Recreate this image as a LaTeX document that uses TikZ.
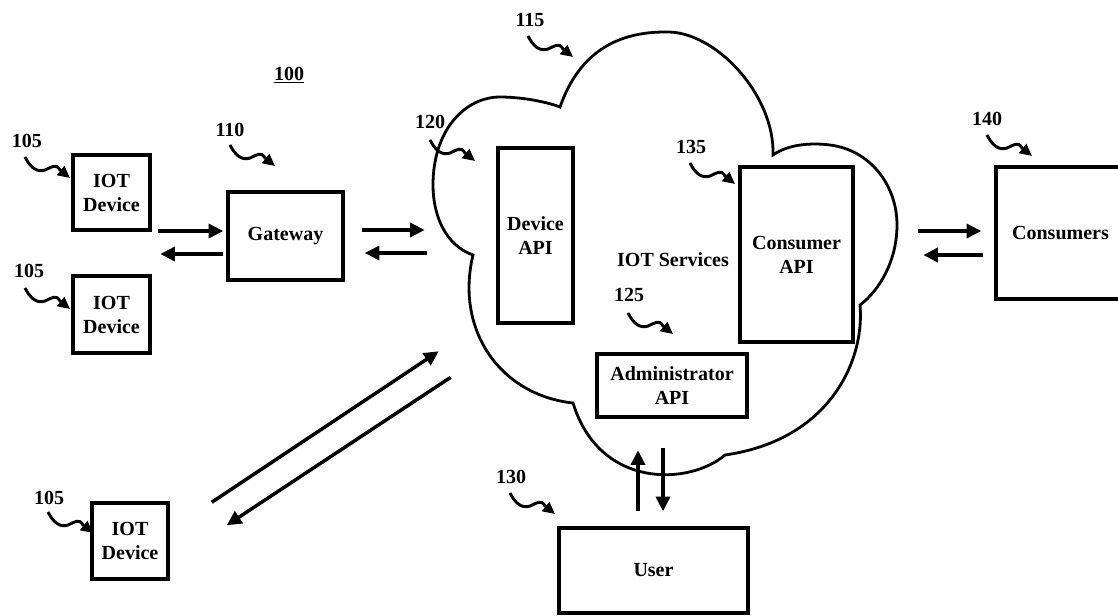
\documentclass[tikz,border=0pt]{standalone}
\usepackage{fontspec}
\setmainfont{Liberation Serif}
\usetikzlibrary{arrows.meta,calc}
\tikzset{
  box/.style={draw,line width=2.6pt,align=center,inner sep=0pt,font=\bfseries\fontsize{15}{18}\selectfont},
  lbl/.style={font=\bfseries\fontsize{15}{18}\selectfont,inner sep=0pt},
  arr/.style={line width=2.6pt,-{Triangle[length=11pt,width=10.5pt]}},
  squig/.pic={\draw[line width=2.2pt,-{Triangle[length=9pt,width=8.5pt]}]
     (0,0) .. controls (5,10) and (12,16) .. (20,13) .. controls (27,10) and (31,6) .. (35,13) -- (45,21);}
}
\begin{document}
\begin{tikzpicture}[x=0.75pt,y=-0.75pt]
\useasboundingbox (0,0) rectangle (1118,615);

% cloud
\draw[line width=2.1pt] (473,255) .. controls (445,245) and (433,215) .. (433,185)
  .. controls (433,130) and (465,97) .. (500,97)
  .. controls (525,97) and (550,103) .. (560,107)
  .. controls (580,50) and (620,32) .. (665,32)
  .. controls (715,30) and (775,95) .. (773,155)
  .. controls (790,143) and (815,143) .. (830,145)
  .. controls (870,150) and (897,185) .. (897,225)
  .. controls (897,260) and (880,290) .. (860,305)
  .. controls (865,360) and (830,440) .. (725,455)
  .. controls (690,485) and (600,490) .. (573,403)
  .. controls (500,395) and (455,330) .. (473,255) -- cycle;

% boxes
\node[box,minimum width=57.75pt,minimum height=56.25pt] (dev1) at (111.5,192.5) {IOT\\Device};
\node[box,minimum width=57.75pt,minimum height=57.75pt] (dev2) at (111.5,314.5) {IOT\\Device};
\node[box,minimum width=57pt,minimum height=57pt] (dev3) at (130,541) {IOT\\Device};
\node[box,minimum width=86.25pt,minimum height=66pt] (gw) at (285.5,236) {Gateway};
\node[box,minimum width=56.25pt,minimum height=131.25pt] (dapi) at (535.5,235.5) {Device\\API};
\node[box,minimum width=84.75pt,minimum height=131.25pt] (capi) at (796.5,254.5) {Consumer\\API};
\node[box,minimum width=112.5pt,minimum height=47.25pt] (aapi) at (672,385.5) {Administrator\\API};
\node[box,minimum width=141.75pt,minimum height=63.75pt] (user) at (653.5,570.5) {User};
\node[box,minimum width=96.75pt,minimum height=99pt] (cons) at (1060.5,233) {Consumers};
\node[lbl] (svc) at (673,260) {IOT Services};

% reference labels
\node[lbl] (l100) at (289,75) {\underline{100}};
\node[lbl] (l105a) at (27,141) {105};
\node[lbl] (l105b) at (29,271) {105};
\node[lbl] (l105c) at (49,498) {105};
\node[lbl] (l110) at (230,130) {110};
\node[lbl] (l115) at (530,20) {115};
\node[lbl] (l120) at (430,122) {120};
\node[lbl] (l135) at (691,147) {135};
\node[lbl] (l125) at (629,295) {125};
\node[lbl] (l130) at (511,477) {130};
\node[lbl] (l140) at (987,119) {140};

\pic at (25,157) {squig};
\pic at (25,288) {squig};
\pic at (48,512) {squig};
\pic at (230,145) {squig};
\pic at (528,36) {squig};
\pic at (430,140) {squig};
\pic at (690,163) {squig};
\pic at (628,313) {squig};
\pic at (510,493) {squig};
\pic at (987,135) {squig};

% arrows
\draw[arr] ($(gw.west)+(-68,-5)$) -- ($(gw.west)+(-3,-5)$);
\draw[arr] ($(gw.west)+(-3,18)$) -- ($(gw.west)+(-66,18)$);
\draw[arr] ($(gw.east)+(17,-6)$) -- ($(gw.east)+(80,-6)$);
\draw[arr] ($(gw.east)+(82,17)$) -- ($(gw.east)+(20,17)$);
\draw[arr] ($(cons.west)+(-76,-2)$) -- ($(cons.west)+(-13,-2)$);
\draw[arr] ($(cons.west)+(-11,22)$) -- ($(cons.west)+(-71,22)$);
\draw[arr] ($(user.north)+(-15.5,-15)$) -- ($(user.north)+(-15.5,-76)$);
\draw[arr] ($(user.north)+(9.5,-78)$) -- ($(user.north)+(9.5,-15)$);
\draw[arr] ($(dev3.north east)+(42,1)$) -- ($(dev3.north east)+(269,-150)$);
\draw[arr] ($(dev3.north east)+(281,-124)$) -- ($(dev3.north east)+(57,24)$);
\end{tikzpicture}
\end{document}
